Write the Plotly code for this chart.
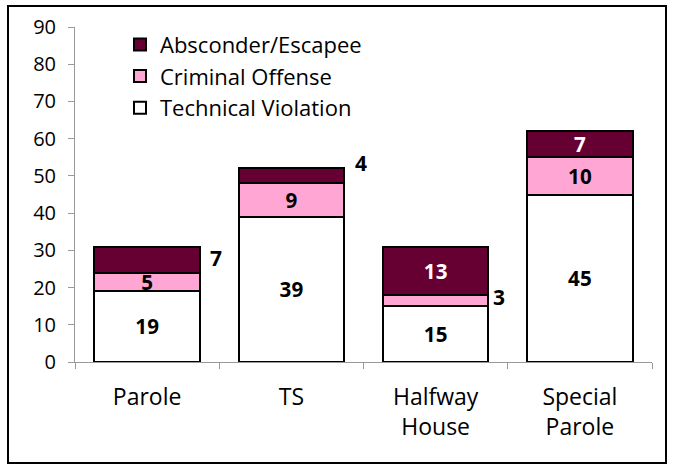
import plotly.graph_objects as go

categories = ["Parole", "TS", "Halfway<br>House", "Special<br>Parole"]
technical_violation = [19, 39, 15, 45]
criminal_offense = [5, 9, 3, 10]
absconder_escapee = [7, 4, 13, 7]
y_ticks = [0, 10, 20, 30, 40, 50, 60, 70, 80, 90]

# labels drawn beside the bar: (series name, category index) -> (xshift, yshift) in px
outside = {("Absconder/Escapee", 0): (69, 2),
           ("Absconder/Escapee", 1): (70, 13),
           ("Criminal Offense", 2): (63, 4)}

series = [
    ("Technical Violation", technical_violation, "#FFFFFF", "#000000"),
    ("Criminal Offense", criminal_offense, "#FFA6D5", "#000000"),
    ("Absconder/Escapee", absconder_escapee, "#660033", "#FFFFFF"),
]

FONT = "'Open Sans', sans-serif"
fig = go.Figure()
base = [0] * len(categories)
annotations = []
for name, vals, color, tcolor in series:
    texts = []
    for i, v in enumerate(vals):
        if (name, i) in outside:
            dx, dy = outside[(name, i)]
            texts.append("")
            annotations.append(dict(x=i, y=base[i] + v / 2, xref="x", yref="y",
                                    text="<b>%d</b>" % v, showarrow=False,
                                    xshift=dx, yshift=dy,
                                    font=dict(family=FONT, size=21, color="#000000")))
        else:
            texts.append("<b>%d</b>" % v)
    fig.add_trace(go.Bar(
        name=name, x=categories, y=vals,
        marker=dict(color=color, line=dict(color="#000000", width=2)),
        text=texts, textposition="inside", insidetextanchor="middle", textangle=0,
        textfont=dict(family=FONT, size=21, color=tcolor),
        hoverinfo="skip",
    ))
    base = [b + v for b, v in zip(base, vals)]

W, H = 674, 468
ml, mr, mt, mb = 75, 22, 27, 106
pw, ph = W - ml - mr, H - mt - mb
fig.add_shape(type="rect", xref="paper", yref="paper",
              x0=(8 - ml) / pw, x1=(666 - ml) / pw,
              y0=(H - mb - 463) / ph, y1=(H - mb - 6) / ph,
              line=dict(color="#000000", width=2), fillcolor="rgba(0,0,0,0)", layer="above")

fig.update_layout(
    width=W, height=H, barmode="stack", bargap=0.27,
    margin=dict(l=ml, r=mr, t=mt, b=mb),
    paper_bgcolor="white", plot_bgcolor="white",
    font=dict(family=FONT, size=21, color="#000000"),
    uniformtext=dict(minsize=18, mode="show"),
    annotations=annotations,
    showlegend=True,
    legend=dict(traceorder="reversed", x=(120 - ml) / pw, y=1.01, xanchor="left", yanchor="top",
                font=dict(family=FONT, size=22), bgcolor="rgba(0,0,0,0)",
                itemwidth=30, tracegroupgap=0),
    xaxis=dict(showline=True, linecolor="#999999", linewidth=1, ticks="outside",
               tickson="boundaries", tickcolor="#999999", ticklen=6,
               ticklabelstandoff=14,
               tickfont=dict(family=FONT, size=23), showgrid=False),
    yaxis=dict(range=[0, 90], tickvals=y_ticks, showline=True, linecolor="#999999",
               linewidth=1, ticks="outside", tickcolor="#999999", ticklen=6,
               ticklabelstandoff=8,
               tickfont=dict(family=FONT, size=20), showgrid=False, zeroline=False),
)

fig.write_html("out.html", config={"displayModeBar": False},
               post_script="document.body.style.margin='0';")
